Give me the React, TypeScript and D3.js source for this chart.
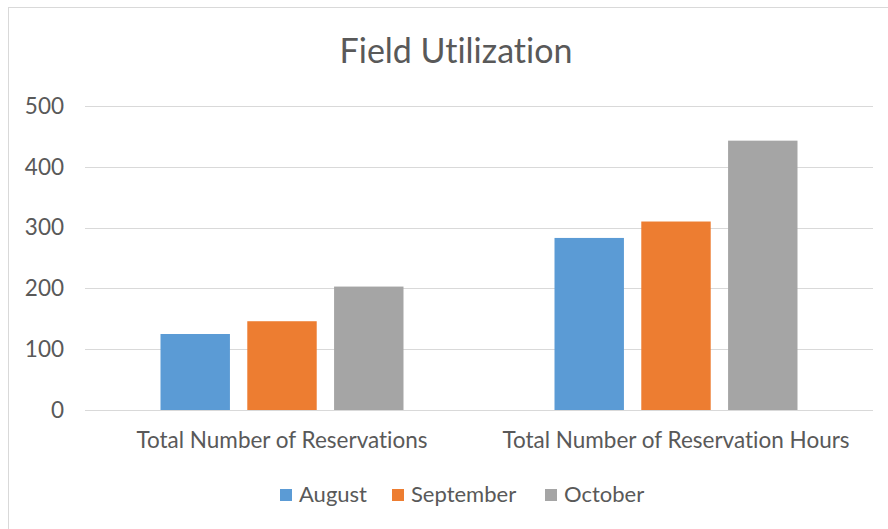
import * as d3 from "d3"
import React, { useEffect, useRef } from "react"

const categories = ["Total Number of Reservations", "Total Number of Reservation Hours"]
const seriesNames = ["August", "September", "October"]
const august = [125, 283]
const september = [146, 310]
const october = [203, 443]
const yTicks = [0, 100, 200, 300, 400, 500]
const colors = ["#5b9bd5", "#ed7d31", "#a5a5a5"]

const FONT = "Lato, 'Open Sans', sans-serif"

const App = () => {
    const svgRef = useRef<SVGSVGElement>(null)

    useEffect(() => {
        document.body.style.margin = "0"
        const width = 888
        const height = 529
        const margin = { top: 106, right: 15, bottom: 119, left: 85 }

        const svg = d3.select(svgRef.current)
            .attr("width", width)
            .attr("height", height)
            .style("background", "#ffffff")
            .style("font-family", FONT)
            .style("font-variant-ligatures", "none")
        svg.selectAll("*").remove()

        // chart frame
        svg.append("rect")
            .attr("x", 8.5).attr("y", 7.5)
            .attr("width", 1000).attr("height", 1000)
            .attr("fill", "none")
            .attr("stroke", "#d9d9d9")

        const values = [august, september, october]
        const rows = categories.map((c, i) => ({
            cat: c,
            vals: seriesNames.map((s, j) => ({ key: s, value: values[j][i] }))
        }))

        const x0 = d3.scaleBand()
            .domain(categories)
            .range([margin.left, width - margin.right])
            .padding(0)

        const x1 = d3.scaleBand()
            .domain(seriesNames)
            .range([0, x0.bandwidth()])
            .paddingInner(0.2)
            .paddingOuter(0.87)

        const y = d3.scaleLinear()
            .domain([0, 500])
            .range([height - margin.bottom, margin.top])

        const color = d3.scaleOrdinal<string>().domain(seriesNames).range(colors)

        // title
        svg.append("text")
            .attr("x", 456)
            .attr("y", 63)
            .attr("text-anchor", "middle")
            .attr("fill", "#595959")
            .style("font-size", "34px")
            .text("Field Utilization")

        // gridlines
        svg.append("g")
            .selectAll("line")
            .data(yTicks)
            .join("line")
            .attr("x1", margin.left)
            .attr("x2", width - margin.right)
            .attr("y1", (d) => Math.round(y(d)) + 0.5)
            .attr("y2", (d) => Math.round(y(d)) + 0.5)
            .attr("stroke", "#d9d9d9")
            .attr("stroke-width", 1)

        // y tick labels
        svg.append("g")
            .selectAll("text")
            .data(yTicks)
            .join("text")
            .attr("x", 64)
            .attr("y", (d) => y(d))
            .attr("dy", "0.35em")
            .attr("text-anchor", "end")
            .attr("fill", "#595959")
            .style("font-size", "22.5px")
            .text((d) => d)

        // bars
        svg.append("g")
            .selectAll("g")
            .data(rows)
            .join("g")
            .attr("transform", (d) => `translate(${x0(d.cat)},0)`)
            .selectAll("rect")
            .data((d) => d.vals)
            .join("rect")
            .attr("x", (d) => x1(d.key)!)
            .attr("y", (d) => y(d.value))
            .attr("width", x1.bandwidth())
            .attr("height", (d) => y(0) - y(d.value))
            .attr("fill", (d) => color(d.key))

        // category labels
        svg.append("g")
            .selectAll("text")
            .data(categories)
            .join("text")
            .attr("x", (d) => x0(d)! + x0.bandwidth() / 2)
            .attr("y", 448)
            .attr("text-anchor", "middle")
            .attr("fill", "#595959")
            .style("font-size", "22.5px")
            .text((d) => d)

        // legend
        const legendX = [280, 392, 545]
        const legend = svg.append("g")
            .selectAll("g")
            .data(seriesNames)
            .join("g")
            .attr("transform", (d, i) => `translate(${legendX[i]},489)`)
        legend.append("rect")
            .attr("x", 0).attr("y", 0)
            .attr("width", 12).attr("height", 12)
            .attr("fill", (d) => color(d))
        legend.append("text")
            .attr("x", 19)
            .attr("y", 13)
            .attr("fill", "#595959")
            .style("font-size", "22px")
            .text((d) => d)
    }, [])

    return <svg ref={svgRef}></svg>
}

export default App
